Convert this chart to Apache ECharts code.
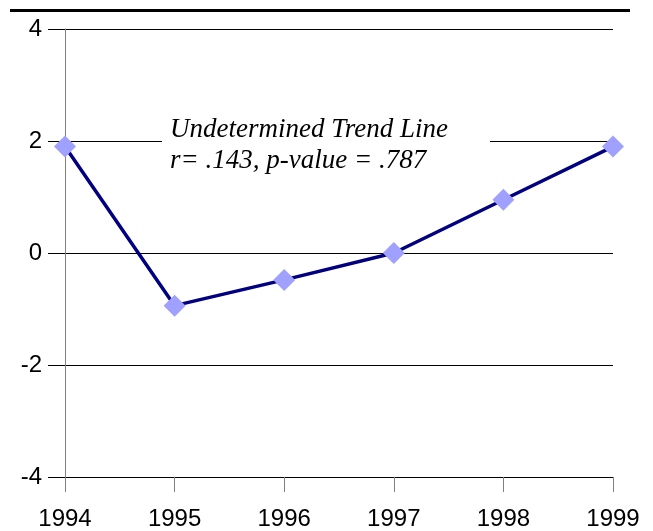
<!DOCTYPE html>
<html>
<head>
<meta charset="utf-8">
<script src="https://cdn.jsdelivr.net/npm/echarts@6/dist/echarts.min.js"></script>
<style>html,body{margin:0;padding:0;background:#fff}#c{width:653px;height:531px}</style>
</head>
<body>
<div id="c"></div>
<script>
const years = ['1994','1995','1996','1997','1998','1999'];
const values = [1.9, -0.94, -0.48, 0.0, 0.95, 1.9];
const yTicks = {min: -4, max: 4, interval: 2};
const noteLines = ['Undetermined Trend Line', 'r= .143, p-value = .787'];

const chart = echarts.init(document.getElementById('c'), null, {renderer: 'canvas'});
chart.setOption({
  animation: false,
  backgroundColor: '#fff',
  grid: {left: 65, right: 40, top: 29, bottom: 52, containLabel: false},
  xAxis: {
    type: 'category', data: years, boundaryGap: false,
    axisLine: {show: true, onZero: false, lineStyle: {color: '#000', width: 1}},
    axisTick: {show: true, length: 15, alignWithLabel: true, lineStyle: {color: '#808080', width: 1}},
    axisLabel: {color: '#000', fontSize: 24, fontFamily: 'Liberation Sans', margin: 30},
    splitLine: {show: false}
  },
  yAxis: {
    type: 'value', min: yTicks.min, max: yTicks.max, interval: yTicks.interval,
    axisLine: {show: true, lineStyle: {color: '#808080', width: 1}},
    axisTick: {show: true, length: 17, lineStyle: {color: '#000', width: 1}},
    axisLabel: {color: '#000', fontSize: 24, fontFamily: 'Liberation Sans', margin: 23},
    splitLine: {show: true, lineStyle: {color: '#000', width: 1}}
  },
  series: [{
    type: 'line', data: values,
    lineStyle: {color: '#000080', width: 3.5},
    itemStyle: {color: '#a0a0ff'},
    symbol: 'diamond', symbolSize: 22, z: 3
  }],
  graphic: [
    {type: 'line', shape: {x1: 10, y1: 10.5, x2: 630, y2: 10.5}, style: {stroke: '#000', lineWidth: 3}},
    {type: 'rect', shape: {x: 162, y: 114, width: 328, height: 62}, style: {fill: '#fff'}, z: 10},
    {type: 'text', left: 170, top: 114, z: 11,
     style: {text: noteLines.join('\n'), fill: '#000', font: 'italic 27px "Liberation Serif"', lineHeight: 31}}
  ]
});
</script>
</body>
</html>
